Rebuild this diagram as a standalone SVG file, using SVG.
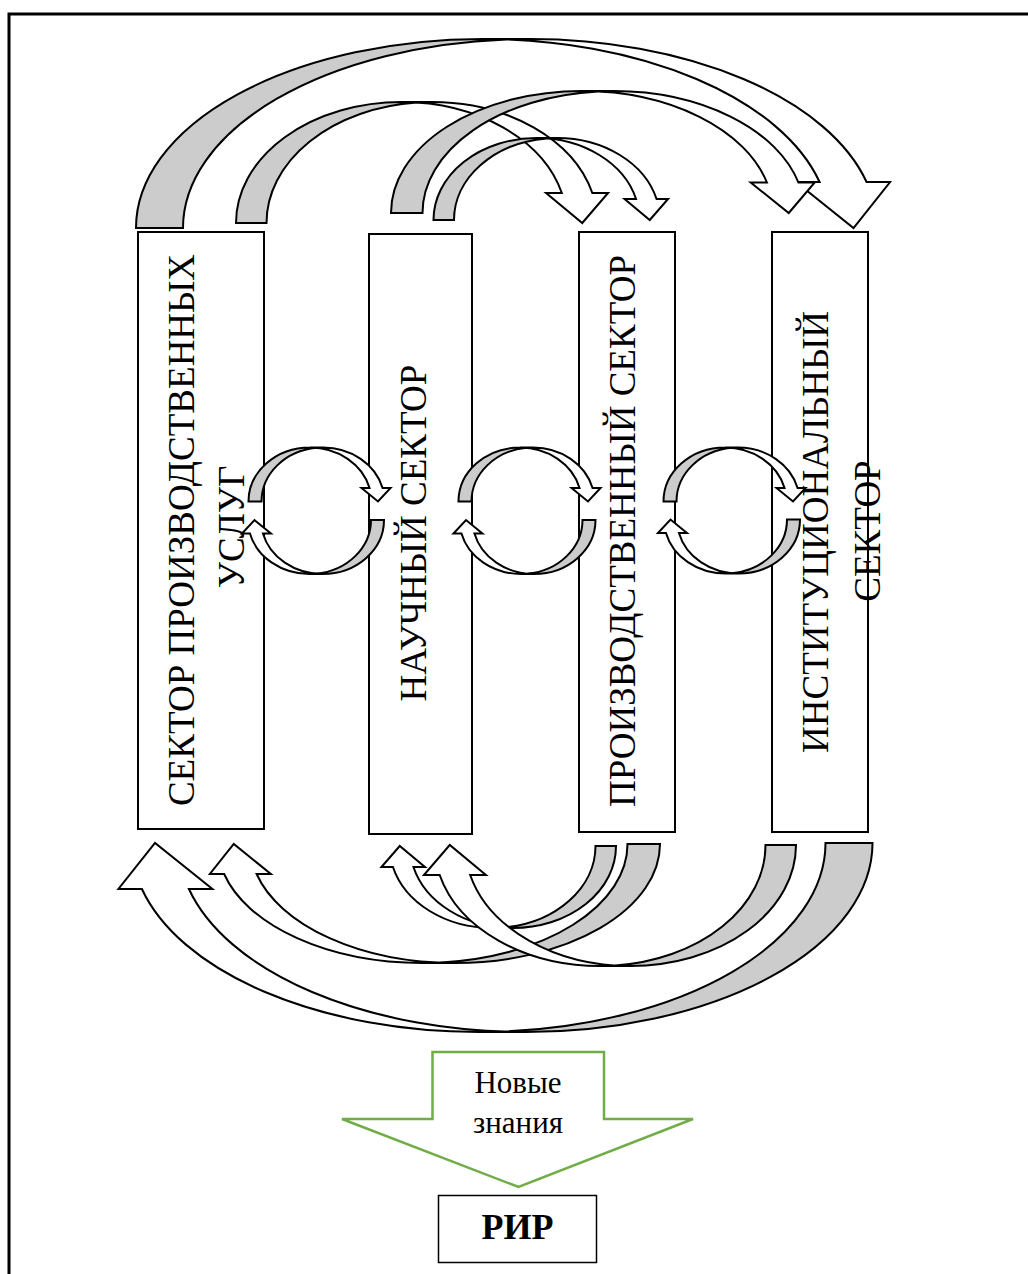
<svg xmlns="http://www.w3.org/2000/svg" xmlns:xlink="http://www.w3.org/1999/xlink" width="1028" height="1274" viewBox="0 0 1028 1274">
<style>
.g{fill:#cccccc;stroke:none}
.w{fill:#ffffff;stroke:none}
.o{fill:none;stroke:#000;stroke-width:2;stroke-linejoin:miter}
.box{fill:#ffffff;stroke:#000;stroke-width:2}
.t{font-family:"Liberation Serif","Times New Roman",serif;font-size:37px;text-anchor:middle;fill:#000}
.s{font-family:"Liberation Serif","Times New Roman",serif;font-size:31px;text-anchor:middle;fill:#000}
</style>
<defs>
<g id="shA">
<path class="g" d="M370.5,-188.57 A347,189 0 0 0 47,0 L0,0 A347,189 0 0 1 370.5,-188.57 Z"/>
<path class="w" d="M717.5,0 L660.07,-46 L683.57,-46 A347,189 0 0 0 347,-189 L394,-189 A347,189 0 0 1 730.57,-46 L754.07,-46 Z"/>
<path class="o" d="M370.5,-188.57 A347,189 0 0 0 47,0 L0,0 A347,189 0 0 1 347,-189 L394,-189 A347,189 0 0 1 730.57,-46 L754.07,-46 L717.5,0 L660.07,-46 L683.57,-46 A347,189 0 0 0 347,-189"/>
</g>
<g id="shB">
<path class="g" d="M206.75,-121.59 A191,122 0 0 0 31.5,0 L0,0 A191,122 0 0 1 206.75,-121.59 Z"/>
<path class="w" d="M397.75,0 L359.68,-30.5 L375.93,-30.5 A191,122 0 0 0 191,-122 L222.5,-122 A191,122 0 0 1 407.43,-30.5 L423.68,-30.5 Z"/>
<path class="o" d="M206.75,-121.59 A191,122 0 0 0 31.5,0 L0,0 A191,122 0 0 1 191,-122 L222.5,-122 A191,122 0 0 1 407.43,-30.5 L423.68,-30.5 L397.75,0 L359.68,-30.5 L375.93,-30.5 A191,122 0 0 0 191,-122"/>
</g>
<g id="shC">
<path class="g" d="M180.75,-120.49 A165.5,121 0 0 0 30.5,0 L0,0 A165.5,121 0 0 1 180.75,-120.49 Z"/>
<path class="w" d="M346.25,0 L310.08,-30 L325.83,-30 A165.5,121 0 0 0 165.5,-121 L196,-121 A165.5,121 0 0 1 356.33,-30 L372.08,-30 Z"/>
<path class="o" d="M180.75,-120.49 A165.5,121 0 0 0 30.5,0 L0,0 A165.5,121 0 0 1 165.5,-121 L196,-121 A165.5,121 0 0 1 356.33,-30 L372.08,-30 L346.25,0 L310.08,-30 L325.83,-30 A165.5,121 0 0 0 165.5,-121"/>
</g>
<g id="shD">
<path class="g" d="M113.25,-81.59 A103,82 0 0 0 20.5,0 L0,0 A103,82 0 0 1 113.25,-81.59 Z"/>
<path class="w" d="M216.25,0 L191.06,-21 L202.56,-21 A103,82 0 0 0 103,-82 L123.5,-82 A103,82 0 0 1 223.06,-21 L234.56,-21 Z"/>
<path class="o" d="M113.25,-81.59 A103,82 0 0 0 20.5,0 L0,0 A103,82 0 0 1 103,-82 L123.5,-82 A103,82 0 0 1 223.06,-21 L234.56,-21 L216.25,0 L191.06,-21 L202.56,-21 A103,82 0 0 0 103,-82"/>
</g>
<g id="shG">
<path class="g" d="M221.25,-118.63 A205,119 0 0 0 32.5,0 L0,0 A205,119 0 0 1 221.25,-118.63 Z"/>
<path class="w" d="M426.25,0 L389.13,-30 L403.38,-30 A205,119 0 0 0 205,-119 L237.5,-119 A205,119 0 0 1 435.88,-30 L450.13,-30 Z"/>
<path class="o" d="M221.25,-118.63 A205,119 0 0 0 32.5,0 L0,0 A205,119 0 0 1 205,-119 L237.5,-119 A205,119 0 0 1 435.88,-30 L450.13,-30 L426.25,0 L389.13,-30 L403.38,-30 A205,119 0 0 0 205,-119"/>
</g>
<g id="shK">
<path class="g" d="M68,-53.7 A61.5,54 0 0 0 13,0 L0,0 A61.5,54 0 0 1 68,-53.7 Z"/>
<path class="w" d="M129.5,0 L113.05,-13.5 L121.05,-13.5 A61.5,54 0 0 0 61.5,-54 L74.5,-54 A61.5,54 0 0 1 134.05,-13.5 L142.05,-13.5 Z"/>
<path class="o" d="M68,-53.7 A61.5,54 0 0 0 13,0 L0,0 A61.5,54 0 0 1 61.5,-54 L74.5,-54 A61.5,54 0 0 1 134.05,-13.5 L142.05,-13.5 L129.5,0 L113.05,-13.5 L121.05,-13.5 A61.5,54 0 0 0 61.5,-54"/>
</g>
</defs>
<rect x="9" y="14" width="1040" height="1280" fill="none" stroke="#000" stroke-width="3"/>
<g id="node-services">
<rect class="box" x="138" y="232" width="126" height="597"/>
<text class="t" transform="translate(194,530) rotate(-90)">СЕКТОР ПРОИЗВОДСТВЕННЫХ</text>
<text class="t" transform="translate(244,527) rotate(-90)">УСЛУГ</text>
</g>
<g id="node-science">
<rect class="box" x="369" y="234" width="103" height="600"/>
<text class="t" transform="translate(426,533) rotate(-90)">НАУЧНЫЙ СЕКТОР</text>
</g>
<g id="node-production">
<rect class="box" x="579" y="232" width="96" height="600"/>
<text class="t" transform="translate(635,531) rotate(-90)">ПРОИЗВОДСТВЕННЫЙ СЕКТОР</text>
</g>
<g id="node-institutional">
<rect class="box" x="772" y="232" width="96" height="600"/>
<text class="t" transform="translate(828,532) rotate(-90)">ИНСТИТУЦИОНАЛЬНЫЙ</text>
<text class="t" transform="translate(880,531) rotate(-90)">СЕКТОР</text>
</g>
<g id="connectors">
<use xlink:href="#shA" transform="translate(136,228)"/>
<use xlink:href="#shC" transform="translate(236,223)"/>
<use xlink:href="#shB" transform="translate(391,213)"/>
<use xlink:href="#shD" transform="translate(433.5,220)"/>
<use xlink:href="#shA" transform="translate(872.5,843) rotate(180)"/>
<use xlink:href="#shG" transform="translate(660,844) rotate(180)"/>
<use xlink:href="#shD" transform="translate(616,846) rotate(180)"/>
<use xlink:href="#shC" transform="translate(796,845) rotate(180)"/>
<use xlink:href="#shK" transform="translate(248.5,501.5)"/>
<use xlink:href="#shK" transform="translate(458.5,501.5)"/>
<use xlink:href="#shK" transform="translate(663.5,501.5)"/>
<use xlink:href="#shK" transform="translate(384,520) rotate(180)"/>
<use xlink:href="#shK" transform="translate(595.5,520) rotate(180)"/>
<use xlink:href="#shK" transform="translate(800,519.5) rotate(180)"/>
</g>
<g id="node-knowledge">
<polygon points="432.5,1052 604,1052 604,1119 693,1119 518.5,1187 342,1119 432.5,1119" fill="#ffffff" stroke="#70AD47" stroke-width="2.5"/>
<text class="s" x="518" y="1093">Новые</text>
<text class="s" x="518" y="1133">знания</text>
</g>
<g id="node-rir">
<rect x="438.5" y="1195.5" width="158" height="67" fill="#ffffff" stroke="#000" stroke-width="1.5"/>
<text x="517.5" y="1239" font-family="'Liberation Serif','Times New Roman',serif" font-size="36" font-weight="bold" text-anchor="middle">РИР</text>
</g>
</svg>
